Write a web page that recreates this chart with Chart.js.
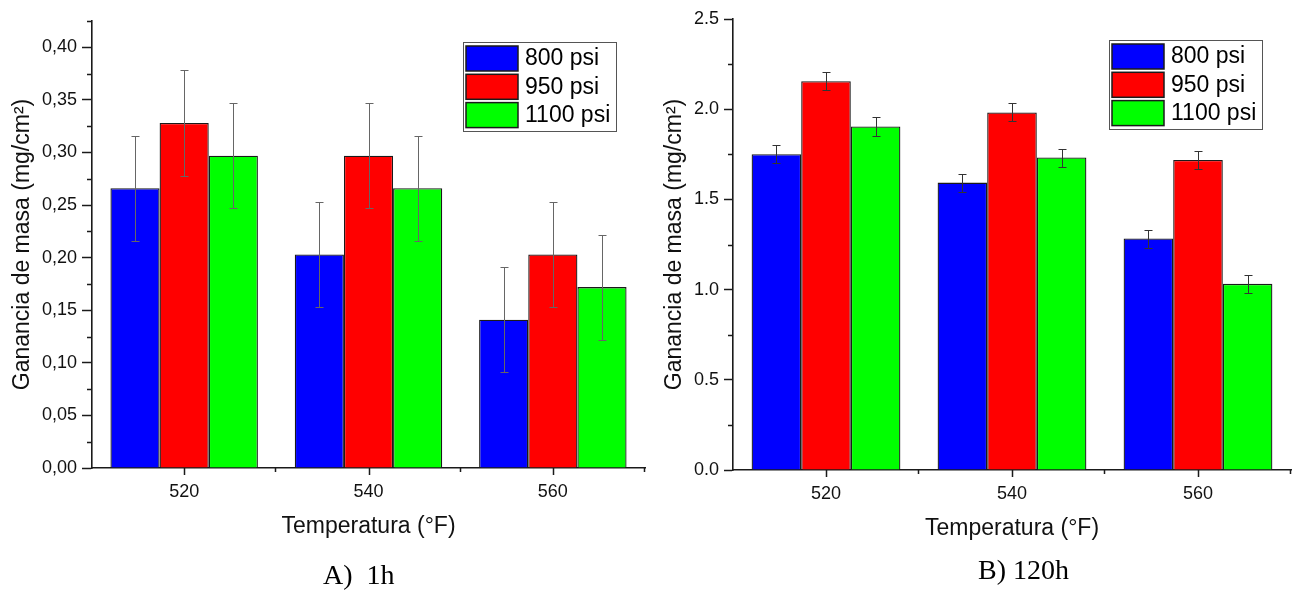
<!DOCTYPE html>
<html>
<head>
<meta charset="utf-8">
<script src="https://cdn.jsdelivr.net/npm/chart.js@4.4.1/dist/chart.umd.min.js"></script>
<style>
  body { margin: 0; background: #fff; width: 1292px; height: 590px; overflow: hidden; position: relative; }
  canvas { position: absolute; top: 0; }
  .cap { position: absolute; font-family: 'Liberation Serif', 'Times New Roman', serif; font-size: 28px; line-height: 28px; white-space: pre; color: #000; }
</style>
</head>
<body>
<canvas id="chartA" width="660" height="590" style="left:0"></canvas>
<canvas id="chartB" width="632" height="590" style="left:660px"></canvas>
<div class="cap" style="left:323px;top:561px">A)  1h</div>
<div class="cap" style="left:978px;top:556px">B) 120h</div>
<script>
const temperatures = ['520', '540', '560'];
const pressures = ['800 psi', '950 psi', '1100 psi'];
const barColors = ['#0000ff', '#ff0000', '#00ff00'];

// A) 1h
const gain1h_800 = [0.266, 0.203, 0.141];
const gain1h_950 = [0.328, 0.297, 0.203];
const gain1h_1100 = [0.297, 0.266, 0.172];
const err1h_800 = [0.05, 0.05, 0.05];
const err1h_950 = [0.05, 0.05, 0.05];
const err1h_1100 = [0.05, 0.05, 0.05];
const yTicks1h = [0, 0.05, 0.10, 0.15, 0.20, 0.25, 0.30, 0.35, 0.40];

// B) 120h
const gain120h_800 = [1.75, 1.593, 1.283];
const gain120h_950 = [2.155, 1.982, 1.719];
const gain120h_1100 = [1.904, 1.732, 1.032];
const err120h_800 = [0.05, 0.05, 0.05];
const err120h_950 = [0.05, 0.05, 0.05];
const err120h_1100 = [0.05, 0.05, 0.05];
const yTicks120h = [0, 0.5, 1.0, 1.5, 2.0, 2.5];

Chart.defaults.font.family = "'Liberation Sans', Arial, sans-serif";
Chart.defaults.color = '#111';

const ink = '#1a1a1a';

// error bars, minor ticks, x ticks and the boxed legend
const decorations = {
  id: 'decorations',
  afterDatasetsDraw(chart, args, opts) {
    const ctx = chart.ctx;
    const y = chart.scales.y;
    ctx.save();
    ctx.strokeStyle = opts.errColor;
    ctx.lineWidth = 1;
    chart.data.datasets.forEach((ds, i) => {
      chart.getDatasetMeta(i).data.forEach((bar, j) => {
        const v = ds.data[j], e = ds.errors[j];
        const y1 = Math.round(y.getPixelForValue(v + e)) + 0.5;
        const y2 = Math.round(y.getPixelForValue(v - e)) + 0.5;
        const x = Math.round(bar.x) + 0.5;
        ctx.beginPath();
        ctx.moveTo(x, y1); ctx.lineTo(x, y2);
        ctx.moveTo(x - 4, y1); ctx.lineTo(x + 4, y1);
        ctx.moveTo(x - 4, y2); ctx.lineTo(x + 4, y2);
        ctx.stroke();
      });
    });
    ctx.restore();
  },
  afterDraw(chart, args, opts) {
    const ctx = chart.ctx;
    const {left, right, top, bottom} = chart.chartArea;
    const x = chart.scales.x, y = chart.scales.y;
    ctx.save();
    ctx.strokeStyle = ink;
    ctx.lineWidth = 1.5;

    // minor y ticks halfway between the labelled ones
    const ticks = opts.yTicks;
    const half = (ticks[1] - ticks[0]) / 2;
    ctx.beginPath();
    for (let v = half; v <= y.max + 1e-9; v += half * 2) {
      const py = Math.round(y.getPixelForValue(v)) + 0.5;
      ctx.moveTo(left - 5, py); ctx.lineTo(left, py);
    }
    // x ticks: long ones at categories, short ones at group boundaries
    const step = x.getPixelForValue(1) - x.getPixelForValue(0);
    temperatures.forEach((t, i) => {
      const cx = Math.round(x.getPixelForValue(i)) + 0.5;
      ctx.moveTo(cx, bottom); ctx.lineTo(cx, bottom + 7);
      const bx = Math.round(x.getPixelForValue(i) + step / 2) - 0.5;
      ctx.moveTo(bx, bottom); ctx.lineTo(bx, bottom + 4);
    });
    ctx.stroke();

    // legend box
    const bw = 153, bh = 89;
    const bxL = right - 29 - bw, byT = top + 21;
    ctx.fillStyle = '#fff';
    ctx.fillRect(bxL, byT, bw, bh);
    ctx.strokeStyle = '#555';
    ctx.lineWidth = 1;
    ctx.strokeRect(bxL + 0.5, byT + 0.5, bw, bh);
    ctx.font = "23px 'Liberation Sans', Arial, sans-serif";
    ctx.textBaseline = 'middle';
    chart.data.datasets.forEach((ds, i) => {
      const sy = byT + 4 + i * 28.3;
      ctx.fillStyle = ds.backgroundColor;
      ctx.fillRect(bxL + 3, sy, 52, 25);
      ctx.strokeStyle = ink;
      ctx.lineWidth = 1.5;
      ctx.strokeRect(bxL + 3, sy, 52, 25);
      ctx.fillStyle = '#000';
      ctx.fillText(ds.label, bxL + 62, sy + 13);
    });
    ctx.restore();
  }
};

function buildChart(id, series, errors, yTicks, yMax, fmt, L) {
  return new Chart(document.getElementById(id), {
    type: 'bar',
    data: {
      labels: temperatures,
      datasets: series.map((d, i) => ({
        label: pressures[i],
        data: d,
        errors: errors[i],
        backgroundColor: barColors[i],
        borderColor: ink,
        borderWidth: 1.3,
        categoryPercentage: 0.8,
        barPercentage: 1
      }))
    },
    options: {
      responsive: false,
      animation: false,
      layout: { padding: { top: L.top, right: L.right, left: 0, bottom: 0 } },
      plugins: {
        legend: { display: false },
        tooltip: { enabled: false },
        decorations: { yTicks: yTicks, errColor: L.errColor }
      },
      scales: {
        x: {
          grid: { display: false, drawTicks: true, tickLength: 7 },
          border: { display: true, color: ink, width: 1.6 },
          ticks: { color: '#111', font: { size: 18 }, padding: 6 },
          title: {
            display: true, text: 'Temperatura (°F)', color: '#111',
            font: { size: 23 }, padding: { top: 0, bottom: L.xTitlePad }
          },
          afterFit: s => { s.height = L.xHeight; }
        },
        y: {
          min: 0,
          max: yMax,
          afterBuildTicks: s => { s.ticks = yTicks.map(v => ({ value: v })); },
          grid: { drawOnChartArea: false, tickLength: L.tickLen, tickWidth: 1.5, tickColor: ink },
          border: { display: true, color: ink, width: 1.6 },
          ticks: { color: '#111', font: { size: 18 }, padding: 5, callback: v => fmt(v) },
          title: {
            display: true, text: 'Ganancia de masa (mg/cm²)', color: '#111',
            font: { size: 23 }, padding: { top: L.yTitlePad, bottom: 0 }
          },
          afterFit: s => { s.width = L.yWidth; }
        }
      }
    },
    plugins: [decorations]
  });
}

buildChart('chartA',
  [gain1h_800, gain1h_950, gain1h_1100],
  [err1h_800, err1h_950, err1h_1100],
  yTicks1h, 0.425,
  v => v.toFixed(2).replace('.', ','),
  { top: 21, right: 15, yWidth: 92, xHeight: 122, xTitlePad: 50, yTitlePad: 9, tickLen: 10, errColor: '#666' });

buildChart('chartB',
  [gain120h_800, gain120h_950, gain120h_1100],
  [err120h_800, err120h_950, err120h_1100],
  yTicks120h, 2.5,
  v => v.toFixed(1),
  { top: 19, right: 1, yWidth: 73, xHeight: 120, xTitlePad: 48, yTitlePad: 1, tickLen: 9, errColor: '#333' });
</script>
</body>
</html>
